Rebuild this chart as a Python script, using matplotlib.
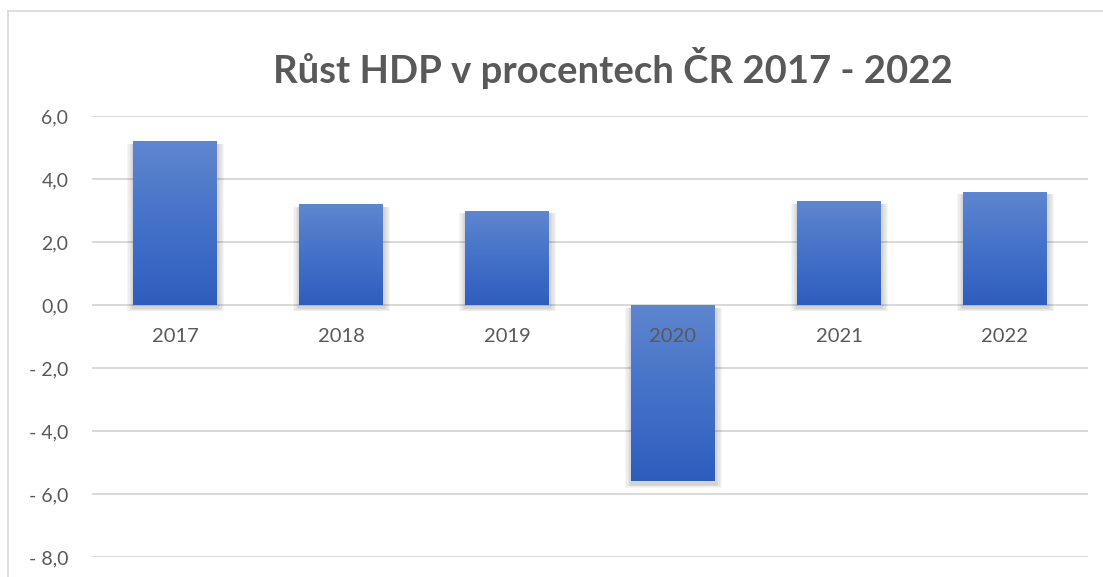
import numpy as np
import matplotlib
matplotlib.use("Agg")
import matplotlib.pyplot as plt
from matplotlib.patches import Rectangle
from matplotlib.lines import Line2D
from matplotlib.colors import LinearSegmentedColormap
import matplotlib.transforms as mtrans

years = ["2017", "2018", "2019", "2020", "2021", "2022"]
growth = [5.2, 3.2, 3.0, -5.6, 3.3, 3.6]
yticks = [6, 4, 2, 0, -2, -4, -6, -8]
title = "Růst HDP v procentech ČR 2017 - 2022"

W, H = 1103, 577
fig = plt.figure(figsize=(W / 100, H / 100), dpi=100)
plt.rcParams['font.family'] = ['Lato', 'DejaVu Sans']

# outer chart frame (partially visible)
fig.add_artist(Line2D([8 / W, 1.0], [1 - 11 / H, 1 - 11 / H], color="#D9D9D9", lw=1.2))
fig.add_artist(Line2D([8 / W, 8 / W], [0, 1 - 11 / H], color="#D9D9D9", lw=1.2))

ax = fig.add_axes([92 / W, 1 - 557 / H, (1088 - 92) / W, (557 - 116) / H])
ax.set_xlim(-0.5, len(years) - 0.5)
ax.set_ylim(-8, 6)
for s in ax.spines.values():
    s.set_visible(False)
ax.set_yticks(yticks)
def fmt(v):
    s = f"{abs(v):.1f}".replace(".", ",")
    return ("- " + s) if v < 0 else s
ax.set_yticklabels([fmt(v) for v in yticks])
ax.tick_params(axis="y", length=0, pad=17, labelsize=14, labelcolor="#595959")
ax.set_xticks([])
for v in yticks:
    ax.axhline(v, color="#D9D9D9", lw=1.4, zorder=0)

cmap = LinearSegmentedColormap.from_list("g", ["#2E5DBE", "#4472C9", "#5F86CF"])
bw = 0.506
grad = np.linspace(0, 1, 256).reshape(-1, 1)
for i, v in enumerate(growth):
    x0 = i - bw / 2
    lo, hi = min(0, v), max(0, v)
    # soft shadow
    for k in range(5):
        d = 0.008 * (k + 1)
        sh = Rectangle((x0 - d + 0.004, lo - 0.1 - d * 2.5), bw + 2 * d, hi - lo + d * 3,
                       facecolor="black", alpha=0.035, lw=0, zorder=1)
        ax.add_patch(sh)
    rect = Rectangle((x0, lo), bw, hi - lo, facecolor="none", lw=0, zorder=2)
    ax.add_patch(rect)
    im = ax.imshow(grad, cmap=cmap, origin="lower", aspect="auto",
                   extent=(x0, x0 + bw, lo, hi), zorder=2, interpolation="bilinear")
    im.set_clip_path(rect)
    t = ax.text(i, 0, years[i], ha="center", va="center", fontsize=14.5, color="#595959", zorder=3)
    t.set_transform(ax.transData + mtrans.ScaledTranslation(0, -31 / 100, fig.dpi_scale_trans))

fig.text(613 / W, 1 - 68 / H, title, ha="center", va="center", fontsize=27.5,
         fontweight="bold", color="#595959")

fig.savefig("out.png", dpi=100)
